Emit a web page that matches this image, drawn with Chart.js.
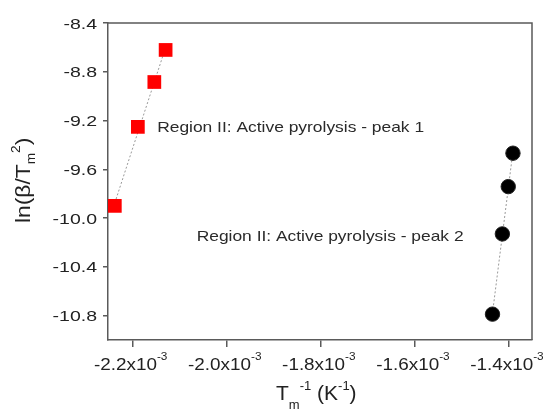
<!DOCTYPE html>
<html>
<head>
<meta charset="utf-8">
<script src="https://cdn.jsdelivr.net/npm/chart.js@4.4.1/dist/chart.umd.min.js"></script>
<style>
  html, body { margin: 0; padding: 0; background: #fff; }
  #wrap { width: 546px; height: 410px; }
</style>
</head>
<body>
<div id="wrap"><canvas id="chart" width="546" height="410"></canvas></div>
<script>
// peak 1 (red squares) and peak 2 (black circles)
const peak1X = [-2.238e-3, -2.189e-3, -2.154e-3, -2.130e-3];
const peak1Y = [-9.90, -9.252, -8.884, -8.621];
const peak2X = [-1.435e-3, -1.414e-3, -1.4015e-3, -1.3915e-3];
const peak2Y = [-10.788, -10.13, -9.742, -9.468];

const xTicks = [-2.2e-3, -2.0e-3, -1.8e-3, -1.6e-3, -1.4e-3];
const xTickLabels = ['-2.2x10', '-2.0x10', '-1.8x10', '-1.6x10', '-1.4x10'];
const yTicks = [-10.8, -10.4, -10.0, -9.6, -9.2, -8.8, -8.4];
const yTickLabels = ['-10.8', '-10.4', '-10.0', '-9.6', '-9.2', '-8.8', '-8.4'];

const noteTexts = ['Region II: Active pyrolysis - peak 1', 'Region II: Active pyrolysis - peak 2'];
const noteX = [-2.148e-3, -2.064e-3];
const noteY = [-9.25, -10.146];

const FONT = '"Liberation Sans", Arial, sans-serif';
const AXIS_COLOR = '#5a5a5a';

function toPoints(xs, ys) {
  return xs.map((x, i) => ({ x: x, y: ys[i] }));
}

// least squares line between the first and last x of a series
function fitLine(xs, ys) {
  const n = xs.length;
  const mx = xs.reduce((a, b) => a + b, 0) / n;
  const my = ys.reduce((a, b) => a + b, 0) / n;
  let sxy = 0, sxx = 0;
  for (let i = 0; i < n; i++) {
    sxy += (xs[i] - mx) * (ys[i] - my);
    sxx += (xs[i] - mx) * (xs[i] - mx);
  }
  const k = sxy / sxx;
  const x0 = Math.min.apply(Math, xs), x1 = Math.max.apply(Math, xs);
  return [{ x: x0, y: my + k * (x0 - mx) }, { x: x1, y: my + k * (x1 - mx) }];
}

// draws a row of text pieces [text, size, dy], stretched sideways by sx
function drawRuns(ctx, runs, x, y, sx, align) {
  let w = 0;
  runs.forEach(r => { ctx.font = r[1] + 'px ' + FONT; w += ctx.measureText(r[0]).width; });
  w *= sx;
  const start = align === 'right' ? x - w : (align === 'center' ? x - w / 2 : x);
  ctx.save();
  ctx.translate(start, y);
  ctx.scale(sx, 1);
  ctx.textBaseline = 'alphabetic';
  ctx.textAlign = 'left';
  let cx = 0;
  runs.forEach(r => {
    ctx.font = r[1] + 'px ' + FONT;
    ctx.fillText(r[0], cx, r[2] || 0);
    cx += ctx.measureText(r[0]).width;
  });
  ctx.restore();
}

const textPlugin = {
  id: 'textPlugin',
  afterDraw(chart) {
    const ctx = chart.ctx;
    const area = chart.chartArea;
    const xs = chart.scales.x, ys = chart.scales.y;

    // top and right frame
    ctx.save();
    ctx.strokeStyle = AXIS_COLOR;
    ctx.lineWidth = 1.5;
    ctx.beginPath();
    ctx.moveTo(area.left, area.top);
    ctx.lineTo(area.right, area.top);
    ctx.lineTo(area.right, area.bottom);
    ctx.stroke();
    ctx.restore();

    ctx.fillStyle = '#222';
    yTicks.forEach((v, i) => {
      drawRuns(ctx, [[yTickLabels[i], 15, 0]], area.left - 11, ys.getPixelForValue(v) + 5.5, 1.3, 'right');
    });
    xTicks.forEach((v, i) => {
      drawRuns(ctx, [[xTickLabels[i], 16, 0], ['-3', 10, -10]], xs.getPixelForValue(v) - 2, area.bottom + 30, 1.18, 'center');
    });

    // axis titles
    drawRuns(ctx, [['T', 21, 0], ['m', 13, 9], ['-1', 13, -10], [' (K', 21, 0], ['-1', 13, -10], [')', 21, 0]],
      276, 400, 1.0, 'left');
    ctx.save();
    ctx.translate(30, 223);
    ctx.rotate(-Math.PI / 2);
    drawRuns(ctx, [['ln(β/T', 20, 0], ['m', 12, 5], ['2', 12, -10], [')', 20, 0]], 0, 0, 1.14, 'left');
    ctx.restore();

    // notes
    ctx.fillStyle = '#2a2a2a';
    noteTexts.forEach((t, i) => {
      drawRuns(ctx, [[t, 15, 0]], xs.getPixelForValue(noteX[i]), ys.getPixelForValue(noteY[i]) + 5.5, 1.16, 'left');
    });
  }
};

new Chart(document.getElementById('chart'), {
  type: 'scatter',
  data: {
    datasets: [
      {
        data: toPoints(peak1X, peak1Y),
        pointStyle: 'rect',
        pointRadius: 9.7,
        backgroundColor: '#ff0000',
        borderColor: '#ff0000',
        borderWidth: 0
      },
      {
        data: toPoints(peak2X, peak2Y),
        pointStyle: 'circle',
        pointRadius: 7.2,
        backgroundColor: '#000',
        borderColor: '#222',
        borderWidth: 1
      },
      {
        data: fitLine(peak1X, peak1Y),
        showLine: true,
        pointRadius: 0,
        borderColor: '#999',
        borderWidth: 1,
        borderDash: [2, 2]
      },
      {
        data: fitLine(peak2X, peak2Y),
        showLine: true,
        pointRadius: 0,
        borderColor: '#999',
        borderWidth: 1,
        borderDash: [2, 2]
      }
    ]
  },
  options: {
    responsive: false,
    animation: false,
    layout: {
      padding: { left: 103, top: 23, right: 14, bottom: 63 }
    },
    scales: {
      x: {
        type: 'linear',
        min: -2.2525e-3,
        max: -1.351e-3,
        afterBuildTicks: (scale) => { scale.ticks = xTicks.map(v => ({ value: v })); },
        ticks: { display: false },
        grid: { drawOnChartArea: false, drawTicks: true, tickLength: 7, color: AXIS_COLOR, lineWidth: 1.5 },
        border: { color: AXIS_COLOR, width: 1.5 }
      },
      y: {
        type: 'linear',
        min: -11.0,
        max: -8.4,
        afterBuildTicks: (scale) => { scale.ticks = yTicks.map(v => ({ value: v })); },
        ticks: { display: false },
        grid: { drawOnChartArea: false, drawTicks: true, tickLength: 5, color: AXIS_COLOR, lineWidth: 1.5 },
        border: { color: AXIS_COLOR, width: 1.5 }
      }
    },
    plugins: {
      legend: { display: false },
      tooltip: { enabled: false }
    }
  },
  plugins: [textPlugin]
});
</script>
</body>
</html>
